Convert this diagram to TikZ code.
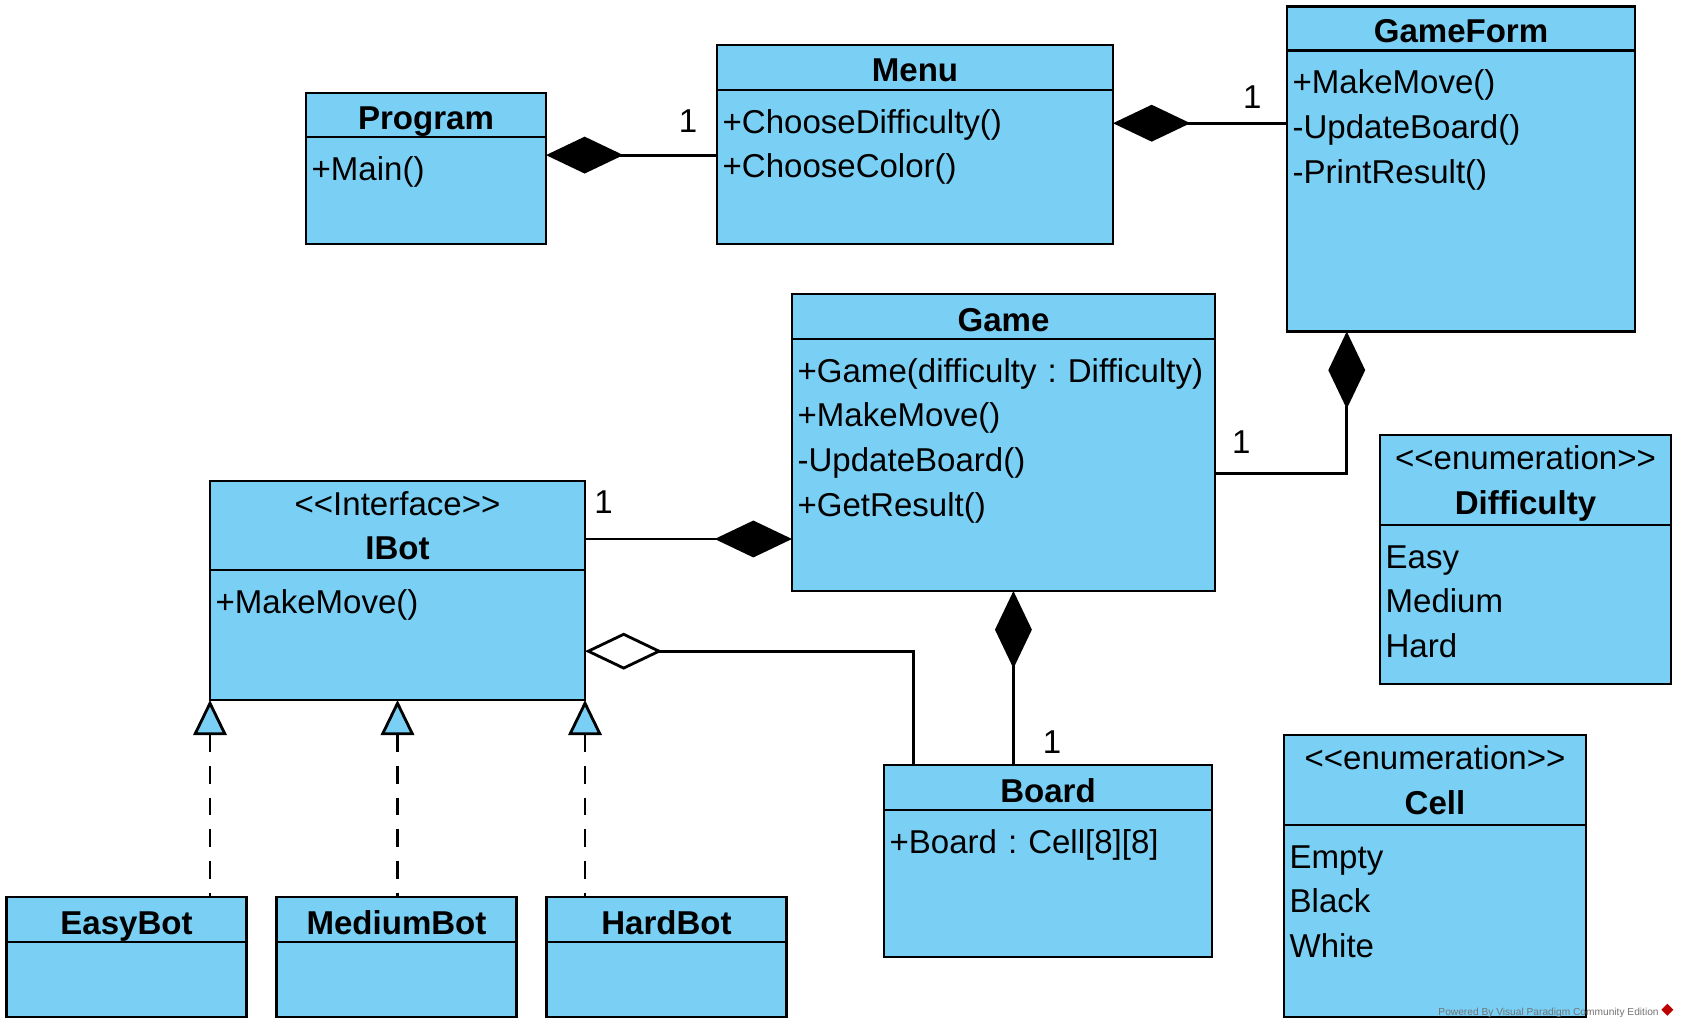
\documentclass[tikz,border=0pt]{standalone}
\usepackage{fontspec}
\setmainfont{Liberation Sans}
\usetikzlibrary{arrows.meta, positioning}
\definecolor{umlblue}{RGB}{122,207,244}
\newcommand{\umlfont}{\fontsize{18.8}{25.5}\selectfont\frenchspacing}
\newcommand{\stereo}[1]{<\kern0pt<#1>\kern0pt>}
\tikzset{
  % Class box styles
  boxbase/.style={rectangle, draw=black, fill=umlblue, line width=1.6pt, outer sep=0pt, inner sep=0pt, minimum width=#1},
  classhead/.style={boxbase=#1, minimum height=0.9cm, text height=16.5pt, text depth=0pt, font=\umlfont},
  stereohead/.style={boxbase=#1, minimum height=1.8cm, text depth=0pt, align=center, font=\umlfont},
  classbody/.style={boxbase=#1},
  members/.style={anchor=north west, inner xsep=3pt, inner ysep=6.5pt, text width=9cm, align=left, font=\umlfont, execute at begin node=\strut},
  mult/.style={inner sep=0pt, font=\umlfont},
  % Connector styles
  comp/.style={{Diamond[fill=black, length=44pt, width=21pt]}-, line width=1.6pt},
  aggr/.style={{Diamond[fill=white, length=44pt, width=21pt]}-, line width=1.6pt},
  real/.style={{Triangle[fill=umlblue, length=20pt, width=19pt]}-, line width=1.6pt, dash pattern=on 10pt off 8pt},
}
\begin{document}
\begin{tikzpicture}
    \useasboundingbox (0,0) rectangle (33.66,-20.58);

    % Program
    \node[classhead=4.8cm, minimum height=0.88cm, anchor=north west] (program) at (6.12,-1.86) {\bfseries Program};
    \node[classbody=4.8cm, minimum height=2.14cm, below=0pt of program] (program-body) {};
    \node[members] (program-ops) at (program-body.north west) {+Main()};

    % Menu
    \node[classhead=7.92cm, anchor=north west] (menu) at (14.34,-0.9) {\bfseries Menu};
    \node[classbody=7.92cm, minimum height=3.08cm, below=0pt of menu] (menu-body) {};
    \node[members] (menu-ops) at (menu-body.north west) {+ChooseDifficulty()\\+ChooseColor()};

    % GameForm
    \node[classhead=6.96cm, minimum height=0.88cm, anchor=north west] (gameform) at (25.74,-0.13) {\bfseries GameForm};
    \node[classbody=6.96cm, minimum height=5.62cm, below=0pt of gameform] (gameform-body) {};
    \node[members] (gameform-ops) at (gameform-body.north west) {+MakeMove()\\-UpdateBoard()\\-PrintResult()};

    % Game
    \node[classhead=8.46cm, anchor=north west] (game) at (15.84,-5.88) {\bfseries Game};
    \node[classbody=8.46cm, minimum height=5.04cm, below=0pt of game] (game-body) {};
    \node[members] (game-ops) at (game-body.north west) {+Game(difficulty : Difficulty)\\+MakeMove()\\-UpdateBoard()\\+GetResult()};

    % IBot
    \node[stereohead=7.5cm, minimum height=1.78cm, anchor=north west] (ibot) at (4.2,-9.62) {\stereo{Interface}\\\bfseries IBot};
    \node[classbody=7.5cm, minimum height=2.6cm, below=0pt of ibot] (ibot-body) {};
    \node[members] (ibot-ops) at (ibot-body.north west) {+MakeMove()};

    % Difficulty
    \node[stereohead=5.82cm, anchor=north west] (difficulty) at (27.6,-8.7) {\stereo{enumeration}\\\bfseries Difficulty};
    \node[classbody=5.82cm, minimum height=3.18cm, below=0pt of difficulty] (difficulty-body) {};
    \node[members] (difficulty-lits) at (difficulty-body.north west) {Easy\\Medium\\Hard};

    % Cell
    \node[stereohead=6.04cm, anchor=north west] (cell) at (25.68,-14.7) {\stereo{enumeration}\\\bfseries Cell};
    \node[classbody=6.04cm, minimum height=3.84cm, below=0pt of cell] (cell-body) {};
    \node[members] (cell-lits) at (cell-body.north west) {Empty\\Black\\White};

    % Board
    \node[classhead=6.56cm, anchor=north west] (board) at (17.68,-15.3) {\bfseries Board};
    \node[classbody=6.56cm, minimum height=2.94cm, below=0pt of board] (board-body) {};
    \node[members] (board-attr) at (board-body.north west) {+Board : Cell[8][8]};

    % Bots
    \node[classhead=4.8cm, anchor=north west] (easybot) at (0.13,-17.94) {\bfseries EasyBot};
    \node[classbody=4.8cm, minimum height=1.5cm, below=0pt of easybot] (easybot-body) {};
    \node[classhead=4.8cm, right=0.6cm of easybot] (mediumbot) {\bfseries MediumBot};
    \node[classbody=4.8cm, minimum height=1.5cm, below=0pt of mediumbot] (mediumbot-body) {};
    \node[classhead=4.8cm, right=0.6cm of mediumbot] (hardbot) {\bfseries HardBot};
    \node[classbody=4.8cm, minimum height=1.5cm, below=0pt of hardbot] (hardbot-body) {};

    % === Connectors ===
    \draw[comp] ([yshift=-10.3pt]program-body.north east) coordinate (pm) -- (pm -| menu-body.west) node[mult, pos=0.83, above=12.3pt] {1};
    \draw[comp] ([yshift=-18.9pt]menu-body.north east) coordinate (mg) -- (mg -| gameform-body.west) node[mult, pos=0.8, above=7.4pt] {1};
    \draw[comp] ([xshift=34pt]gameform-body.south west) |- ([yshift=-76.7pt]game-body.north east) node[mult, pos=0.9, above=10.8pt] {1};
    \draw[comp] ([yshift=-113.8pt]game-body.north west) coordinate (gi) -- (gi -| ibot.east) node[mult, pos=0.91, above=13.8pt] {1};
    \draw[comp] ([xshift=126pt]game-body.south west) coordinate (gb) -- (gb |- board.north) node[mult, pos=0.87, right=16pt] {1};
    \draw[aggr] ([yshift=-46.2pt]ibot-body.north east) -| ([xshift=17pt]board.north west);

    % Realizations
    \draw[real] (ibot-body.south west) -- (ibot-body.south west |- easybot.north);
    \draw[real] (ibot-body.south) -- (ibot-body.south |- mediumbot.north);
    \draw[real] (ibot-body.south east) -- (ibot-body.south east |- hardbot.north);

    % Watermark
    \node[font=\fontsize{5.8}{7}\selectfont, text=black!55, anchor=east, inner sep=0pt] (vpmark) at (33.18,-20.26) {Powered By Visual Paradigm Community Edition};
    \node[fill=red!75!black, rotate=45, minimum size=0.17cm, inner sep=0pt, right=0.1cm of vpmark] (vplogo) {};
\end{tikzpicture}
\end{document}
